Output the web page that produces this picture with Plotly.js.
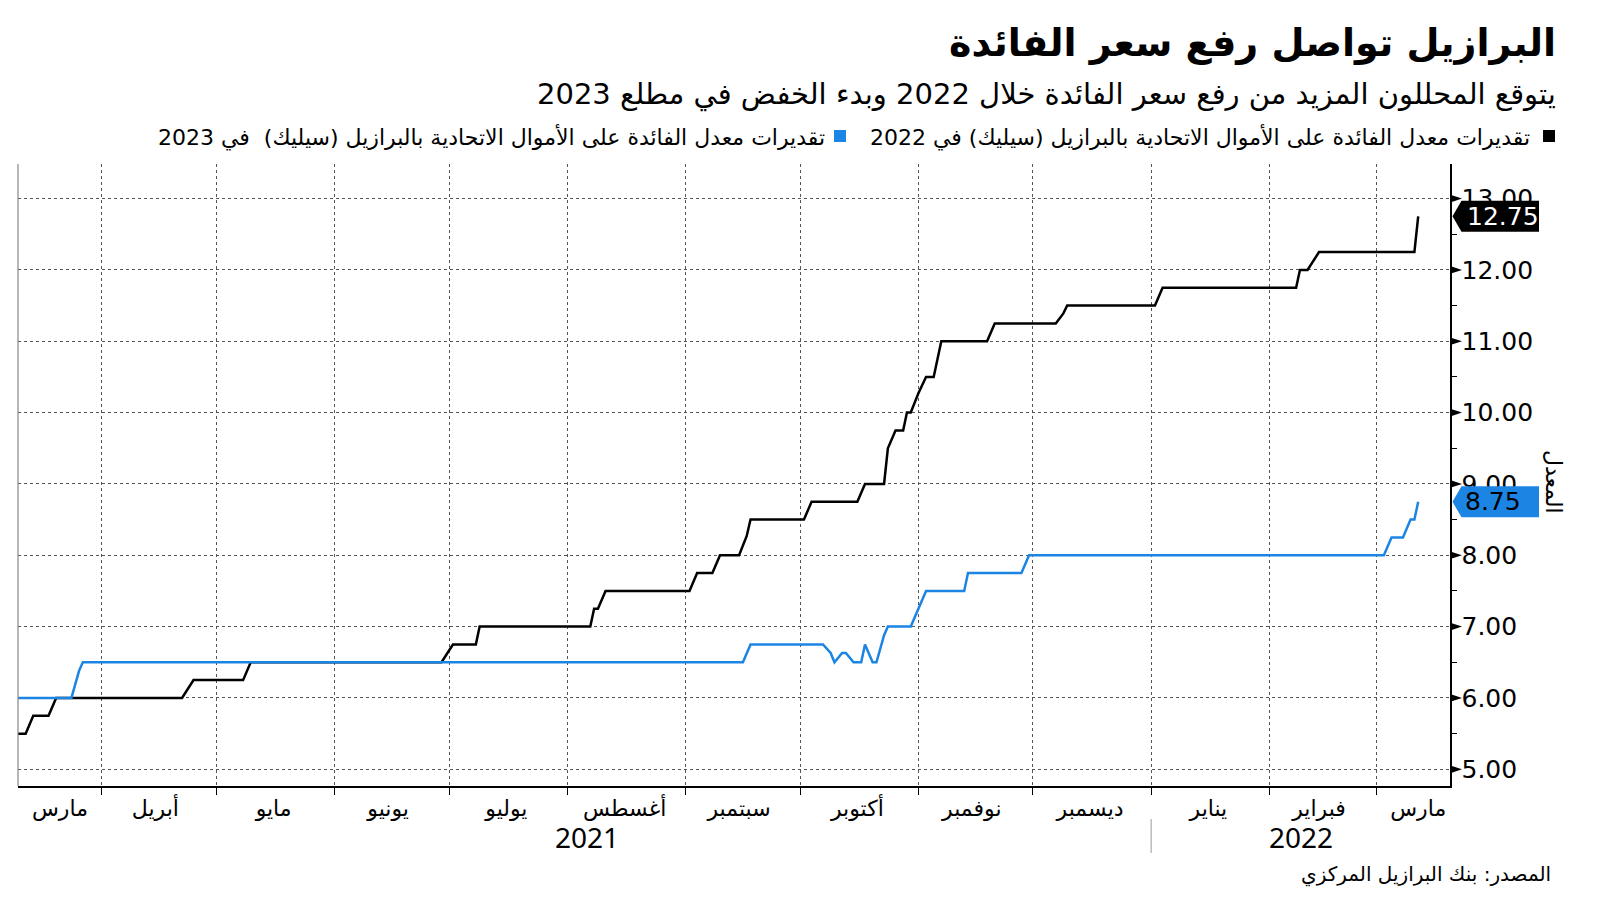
<!DOCTYPE html>
<html>
<head>
<meta charset="utf-8">
<script src="https://cdn.plot.ly/plotly-3.0.1.min.js"></script>
<style>
html,body{margin:0;padding:0;background:#fff;}
#chart{width:1600px;height:901px;}
</style>
</head>
<body>
<div id="chart"></div>
<script>
// ---- data ----
const blackName = 'تقديرات معدل الفائدة على الأموال الاتحادية بالبرازيل (سيليك) في 2022';
const blueName = 'تقديرات معدل الفائدة على الأموال الاتحادية بالبرازيل (سيليك)  في 2023';

const blackDates = ['2021-03-10','2021-03-12','2021-03-14','2021-03-18','2021-03-20','2021-04-22','2021-04-25','2021-05-08','2021-05-10','2021-06-29','2021-07-02','2021-07-08','2021-07-09','2021-08-07','2021-08-08','2021-08-09','2021-08-11','2021-09-02','2021-09-04','2021-09-08','2021-09-10','2021-09-15','2021-09-17','2021-09-18','2021-10-02','2021-10-04','2021-10-16','2021-10-18','2021-10-23','2021-10-24','2021-10-26','2021-10-28','2021-10-29','2021-10-30','2021-11-01','2021-11-03','2021-11-05','2021-11-07','2021-11-19','2021-11-21','2021-12-07','2021-12-09','2021-12-10','2022-01-02','2022-01-04','2022-02-08','2022-02-09','2022-02-11','2022-02-14','2022-03-11','2022-03-12'];
const blackValues = [5.5,5.5,5.75,5.75,6.0,6.0,6.25,6.25,6.5,6.5,6.75,6.75,7.0,7.0,7.25,7.25,7.5,7.5,7.75,7.75,8.0,8.0,8.27,8.5,8.5,8.75,8.75,9.0,9.0,9.5,9.75,9.75,10.0,10.0,10.27,10.5,10.5,11.0,11.0,11.25,11.25,11.39,11.5,11.5,11.75,11.75,12.0,12.0,12.25,12.25,12.75];

const blueDates = ['2021-03-10','2021-03-24','2021-03-26','2021-03-27','2021-09-16','2021-09-18','2021-10-07','2021-10-09','2021-10-10','2021-10-12','2021-10-13','2021-10-15','2021-10-17','2021-10-18','2021-10-20','2021-10-21','2021-10-23','2021-10-24','2021-10-30','2021-11-01','2021-11-03','2021-11-13','2021-11-14','2021-11-28','2021-11-30','2022-03-03','2022-03-05','2022-03-08','2022-03-10','2022-03-11','2022-03-12'];
const blueValues = [6.0,6.0,6.38,6.5,6.5,6.75,6.75,6.63,6.5,6.63,6.63,6.5,6.5,6.75,6.5,6.5,6.88,7.0,7.0,7.25,7.5,7.5,7.75,7.75,8.0,8.0,8.25,8.25,8.5,8.5,8.75];

const monthLabels = ['مارس','أبريل','مايو','يونيو','يوليو','أغسطس','سبتمبر','أكتوبر','نوفمبر','ديسمبر','يناير','فبراير','مارس'];
const monthLabelDates = ['2021-03-21','2021-04-15','2021-05-16','2021-06-15','2021-07-16','2021-08-16','2021-09-15','2021-10-16','2021-11-15','2021-12-16','2022-01-16','2022-02-14','2022-03-12'];
const yearLabels = ['2021','2022'];
const yTickVals = [5,6,7,8,9,10,11,12,13];

const titleText = 'البرازيل تواصل رفع سعر الفائدة';
const subtitleText = 'يتوقع المحللون المزيد من رفع سعر الفائدة خلال 2022 وبدء الخفض في مطلع 2023';
const sourceText = 'المصدر: بنك البرازيل المركزي';
const yTitleText = 'المعدل';

// ---- layout geometry ----
const FW = 1600, FH = 901;
const ML = 18, MR = 150, MT = 164, MB = 115;
const PW = FW - ML - MR, PH = FH - MT - MB;
const px = x => (x - ML) / PW;
const py = y => 1 - (y - MT) / PH;
const yRange = [4.766, 13.484];
const unitPx = PH / (yRange[1] - yRange[0]);
const dy = p => p / unitPx;

const BLACK = '#000000';
const BLUE = '#1c84e3';
const AR = 'DejaVu Sans';
const NUM = 'DejaVu Sans';
const YEAR = 'Noto Sans';

const traces = [
  {x: blackDates, y: blackValues, type: 'scatter', mode: 'lines', name: blackName,
   line: {color: BLACK, width: 2.5, shape: 'linear'}, hoverinfo: 'skip'},
  {x: blueDates, y: blueValues, type: 'scatter', mode: 'lines', name: blueName,
   line: {color: BLUE, width: 2.5, shape: 'linear'}, hoverinfo: 'skip'}
];

const shapes = [];
// left border of plot
shapes.push({type: 'line', xref: 'paper', yref: 'paper', x0: 0, x1: 0, y0: 0, y1: 1,
  line: {color: '#888', width: 1.2}});
// triangle markers for major y ticks
yTickVals.forEach(v => {
  shapes.push({type: 'path', xref: 'paper', yref: 'y',
    path: `M ${px(1451)} ${v + dy(3.6)} L ${px(1462)} ${v} L ${px(1451)} ${v - dy(3.6)} Z`,
    fillcolor: BLACK, line: {width: 0}});
});
// year separator
shapes.push({type: 'line', xref: 'x', yref: 'paper', x0: '2022-01-01', x1: '2022-01-01',
  y0: py(819), y1: py(853), line: {color: '#999', width: 1}});
// legend squares
shapes.push({type: 'rect', xref: 'paper', yref: 'paper', x0: px(1543), x1: px(1555), y0: py(130), y1: py(142),
  fillcolor: BLACK, line: {width: 0}});
shapes.push({type: 'rect', xref: 'paper', yref: 'paper', x0: px(834), x1: px(846), y0: py(130), y1: py(142),
  fillcolor: BLUE, line: {width: 0}});
// last-value boxes
function valueBox(v, color) {
  const h = dy(15.5);
  return {type: 'path', xref: 'paper', yref: 'y',
    path: `M ${px(1452.5)} ${v} L ${px(1461.5)} ${v + h} L ${px(1539)} ${v + h} L ${px(1539)} ${v - h} L ${px(1461.5)} ${v - h} Z`,
    fillcolor: color, line: {width: 0}};
}
const lastBlack = blackValues[blackValues.length - 1];
const lastBlue = blueValues[blueValues.length - 1];
shapes.push(valueBox(lastBlack, BLACK));
shapes.push(valueBox(lastBlue, BLUE));

const annotations = [
  {xref: 'paper', yref: 'paper', x: px(1558), y: py(43), xanchor: 'right', yanchor: 'middle',
   text: '<b>' + titleText + '</b>', showarrow: false, font: {family: AR, size: 38, color: BLACK}},
  {xref: 'paper', yref: 'paper', x: px(1558), y: py(94), xanchor: 'right', yanchor: 'middle',
   text: subtitleText, showarrow: false, font: {family: AR, size: 29, color: BLACK}},
  {xref: 'paper', yref: 'paper', x: px(1532), y: py(137), xanchor: 'right', yanchor: 'middle',
   text: blackName, showarrow: false, font: {family: AR, size: 22, color: BLACK}},
  {xref: 'paper', yref: 'paper', x: px(827), y: py(137), xanchor: 'right', yanchor: 'middle',
   text: blueName, showarrow: false, font: {family: AR, size: 22, color: BLACK}},
  {xref: 'paper', yref: 'y', x: px(1465), y: lastBlack, xanchor: 'left', yanchor: 'middle',
   text: lastBlack.toFixed(2), showarrow: false, font: {family: NUM, size: 25, color: '#ffffff'}},
  {xref: 'paper', yref: 'y', x: px(1463), y: lastBlue, xanchor: 'left', yanchor: 'middle',
   text: lastBlue.toFixed(2), showarrow: false, font: {family: NUM, size: 25, color: BLACK}},
  {xref: 'paper', yref: 'paper', x: px(1554), y: py(482), xanchor: 'center', yanchor: 'middle',
   text: yTitleText, textangle: 90, showarrow: false, font: {family: AR, size: 22, color: BLACK}},
  {xref: 'paper', yref: 'paper', x: px(587), y: py(837), xanchor: 'center', yanchor: 'middle',
   text: yearLabels[0], showarrow: false, font: {family: YEAR, size: 28, color: BLACK}},
  {xref: 'paper', yref: 'paper', x: px(1301), y: py(837), xanchor: 'center', yanchor: 'middle',
   text: yearLabels[1], showarrow: false, font: {family: YEAR, size: 28, color: BLACK}},
  {xref: 'paper', yref: 'paper', x: px(1553), y: py(874), xanchor: 'right', yanchor: 'middle',
   text: sourceText, showarrow: false, font: {family: AR, size: 20, color: BLACK}}
];

const layout = {
  width: FW, height: FH,
  margin: {l: ML, r: MR, t: MT, b: MB, pad: 0},
  paper_bgcolor: '#ffffff', plot_bgcolor: '#ffffff',
  showlegend: false,
  xaxis: {
    type: 'date',
    range: ['2021-03-10', '2022-03-20 08:00'],
    tickmode: 'array', tickvals: monthLabelDates, ticktext: monthLabels,
    ticks: '', showgrid: false, zeroline: false,
    showline: true, linecolor: BLACK, linewidth: 1.5,
    ticklabelstandoff: 2,
    tickfont: {family: AR, size: 22, color: BLACK},
    minor: {dtick: 'M1', tick0: '2021-01-01', ticks: 'outside', ticklen: 7, tickwidth: 1,
      tickcolor: BLACK, showgrid: true, gridcolor: '#555', griddash: 'dot', gridwidth: 1}
  },
  yaxis: {
    side: 'right', range: yRange,
    tickmode: 'array', tickvals: yTickVals, tickformat: '.2f',
    ticks: 'outside', ticklen: 5, tickcolor: 'rgba(0,0,0,0)',
    showgrid: true, gridcolor: '#555', griddash: 'dot', gridwidth: 1,
    zeroline: false, showline: true, linecolor: BLACK, linewidth: 1.5,
    tickfont: {family: NUM, size: 25, color: BLACK},
    minor: {dtick: 0.5, tick0: 5, ticks: 'outside', ticklen: 5, tickwidth: 1, tickcolor: BLACK, showgrid: false}
  },
  shapes: shapes,
  annotations: annotations
};

Plotly.newPlot('chart', traces, layout, {displayModeBar: false, staticPlot: true});
</script>
</body>
</html>
